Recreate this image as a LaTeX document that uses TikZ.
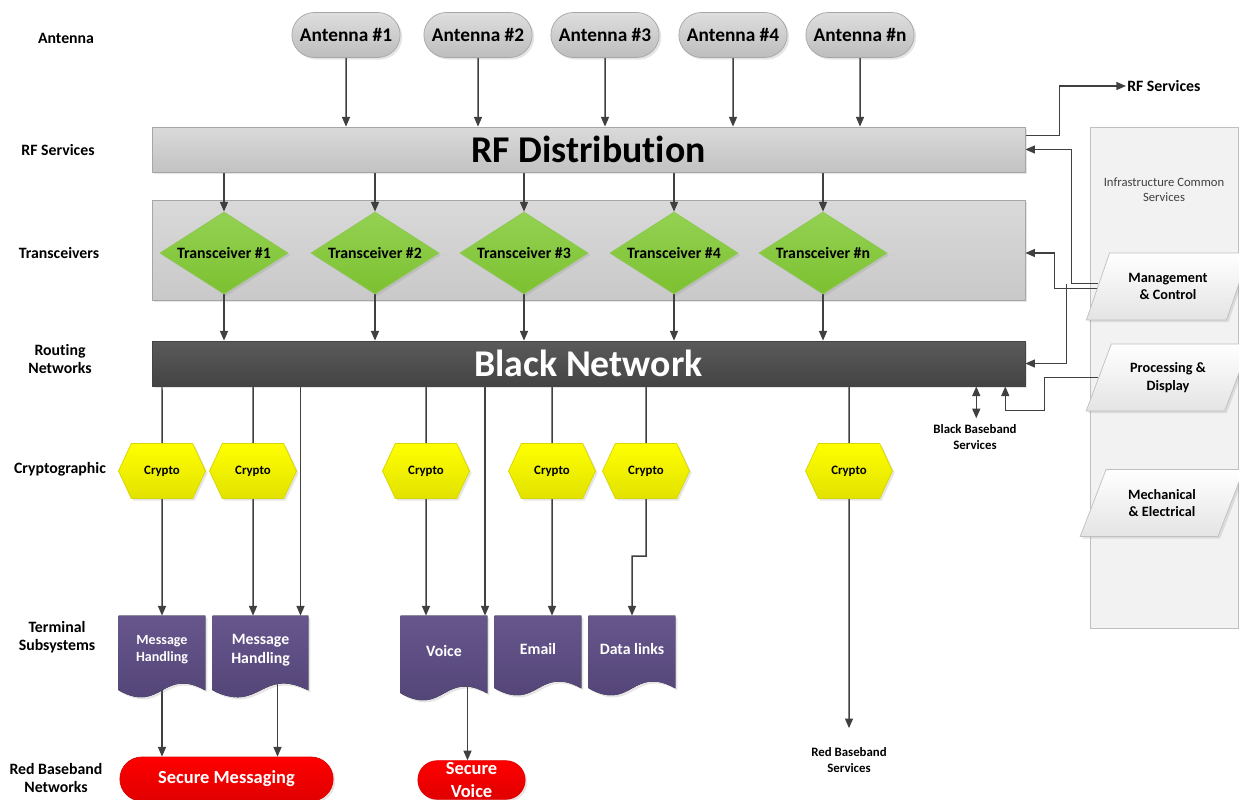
\documentclass[tikz,border=0pt]{standalone}
\usepackage{fontspec}
\setmainfont{Carlito}[Ligatures={NoCommon}]
\usetikzlibrary{arrows.meta, positioning, shapes.geometric, shapes.misc, shapes.symbols, calc, shadows}

\definecolor{linegray}{HTML}{404040}
\definecolor{pilltop}{HTML}{DEDEDE}
\definecolor{pillbot}{HTML}{BDBDBD}
\definecolor{pillborder}{HTML}{A6A6A6}
\definecolor{bartop}{HTML}{DADADA}
\definecolor{barbot}{HTML}{C2C2C2}
\definecolor{boxtop}{HTML}{D9D9D9}
\definecolor{boxbot}{HTML}{C9C9C9}
\definecolor{blacktop}{HTML}{5A5A5A}
\definecolor{blackbot}{HTML}{444444}
\definecolor{trxtop}{HTML}{94D153}
\definecolor{trxbot}{HTML}{7CC130}
\definecolor{trxborder}{HTML}{8CC850}
\definecolor{crytop}{HTML}{FFFF00}
\definecolor{crybot}{HTML}{E2E200}
\definecolor{cryborder}{HTML}{D6D600}
\definecolor{doctop}{HTML}{66568C}
\definecolor{docbot}{HTML}{514275}
\definecolor{redtop}{HTML}{FF0000}
\definecolor{redbot}{HTML}{E00000}
\definecolor{icsfill}{HTML}{F2F2F2}
\definecolor{icsborder}{HTML}{BFBFBF}
\definecolor{parabot}{HTML}{E4E4E4}

\pgfdeclarelayer{back}
\pgfdeclarelayer{lines}
\pgfdeclarelayer{docs}
\pgfsetlayers{back,lines,docs,main}

\begin{document}
\begin{tikzpicture}[
        x=0.02cm, y=-0.02cm,
        soft/.style={drop shadow={shadow xshift=1.2pt, shadow yshift=-1.2pt, opacity=0.2}},
        rowlabel/.style={font=\bfseries\fontsize{9}{10.2}\selectfont, align=center},
        smalltext/.style={font=\bfseries\fontsize{7.3}{9}\selectfont, align=center},
        antenna/.style={rounded rectangle, soft, draw=pillborder, top color=pilltop, bottom color=pillbot, minimum width=2.4cm, minimum height=0.9cm, font=\bfseries\fontsize{11}{13}\selectfont},
        bar/.style={rectangle, soft, minimum width=17.46cm, minimum height=0.9cm, font=\bfseries\fontsize{21.5}{24}\selectfont},
        container/.style={rectangle, soft, draw=pillborder, top color=boxtop, bottom color=boxbot, minimum width=17.46cm, minimum height=2cm},
        trx/.style={diamond, soft, aspect=1.56, inner sep=0pt, draw=trxborder, top color=trxtop, bottom color=trxbot, minimum width=2.56cm, minimum height=1.64cm, font=\bfseries\fontsize{9}{11}\selectfont},
        crypto/.style={signal, signal to=east and west, signal pointer angle=130, soft, inner sep=0pt, draw=cryborder, top color=crytop, bottom color=crybot, minimum width=1.74cm, minimum height=1.1cm, font=\bfseries\fontsize{7.3}{9}\selectfont},
        doc/.style={rectangle, inner sep=0pt, text=white, align=center, minimum width=1.72cm, minimum height=1.36cm, font=\bfseries\fontsize{9}{11}\selectfont},
        redpill/.style={rounded rectangle, soft, inner ysep=1pt, draw=redbot, top color=redtop, bottom color=redbot, text=white, align=center, font=\bfseries\fontsize{10.5}{13}\selectfont},
        para/.style={trapezium, trapezium left angle=65, trapezium right angle=115, trapezium stretches=true, soft, draw=icsborder, top color=white, bottom color=parabot, minimum width=3.28cm, minimum height=1.34cm, align=center, font=\bfseries\fontsize{8.1}{10}\selectfont},
        conn/.style={draw=linegray, line width=0.85pt, -{Triangle[length=5.5pt, width=4.5pt]}},
        link/.style={draw=linegray, line width=0.85pt}
    ]

    \begin{pgfonlayer}{back}
        \fill[white] (0,0) rectangle (1239,800);
    \end{pgfonlayer}
    \useasboundingbox (0,0) rectangle (1239,800);

    % Row labels
    \node[rowlabel] (lAnt) at (66,38) {Antenna};
    \node[rowlabel] (lRF) at (58,150) {RF Services};
    \node[rowlabel] (lTrx) at (59,253) {Transceivers};
    \node[rowlabel] (lRoute) at (60,359) {Routing\\Networks};
    \node[rowlabel] (lCrypto) at (60,469) {Cryptographic};
    \node[rowlabel] (lTerm) at (57,637) {Terminal\\Subsystems};
    \node[rowlabel] (lRed) at (56,778) {Red Baseband\\Networks};

    % Antennas
    \foreach \x/\i in {346/1, 478/2, 605/3, 733/4, 860/n}
        \node[antenna] (ant\i) at (\x,35) {Antenna \#\i};

    % RF distribution and black network
    \node[bar, draw=pillborder, top color=bartop, bottom color=barbot] (rfd) at (588.5,149.5) {RF Distribution};
    \node[bar, draw=blackbot, top color=blacktop, bottom color=blackbot, text=white] (bn) at (588.5,363.5) {Black Network};

    % Transceivers
    \begin{pgfonlayer}{back}
        \node[container] (trxbox) at (588.5,250) {};
        \node[rectangle, draw=icsborder, fill=icsfill, minimum width=2.96cm, minimum height=10.02cm] (ics) at (1164,377.5) {};
    \end{pgfonlayer}
    \foreach \x/\i in {224/1, 375/2, 524/3, 674/4, 823/n}
        \node[trx] (trx\i) at (\x,253) {Transceiver \#\i};

    % Crypto
    \foreach \x/\i in {162/1, 253/2, 426/3, 552/4, 646/5, 849/6}
        \node[crypto] (cr\i) at (\x,471) {Crypto};

    % Terminal subsystems
    \node[doc, font=\bfseries\fontsize{8}{9.6}\selectfont] (mh1) at (162,650) {Message\\Handling};
    \node[doc, minimum width=1.9cm, font=\bfseries\fontsize{9}{10.6}\selectfont] (mh2) at (260.5,650) {Message\\Handling};
    \node[doc, minimum height=1.42cm] (voice) at (444,651.5) {Voice};
    \node[doc, minimum height=1.32cm] (email) at (538,649) {Email};
    \node[doc, minimum height=1.32cm] (datal) at (632,649) {Data links};
    \begin{pgfonlayer}{docs}
        \foreach \d in {mh1, mh2, voice, email, datal}
            \fill[soft, top color=doctop, bottom color=docbot] (\d.north west) -- (\d.north east) -- ($(\d.south east)+(0,6)$)
                .. controls ($(\d.south)+(0,-18)$) and ($(\d.south)+(0,30)$) .. ($(\d.south west)+(0,6)$) -- cycle;
    \end{pgfonlayer}

    % Red baseband networks
    \node[redpill, minimum width=4.5cm, minimum height=0.88cm] (sm) at (226.5,779) {Secure Messaging};
    \node[redpill, minimum width=2.38cm] (sv) at (471.5,780) {Secure\\Voice};

    % Free labels
    \node[smalltext] (bbs) at (975,437) {Black Baseband\\Services};
    \node[smalltext] (rbs) at (849,760) {Red Baseband\\Services};
    \node[rowlabel, anchor=west, inner xsep=0.5pt] (rfsvc) at (1126,86) {RF Services};

    % Infrastructure common services
    \node[font=\fontsize{7.2}{8.6}\selectfont, text=linegray, align=center] (icstitle) at (1164,190) {Infrastructure Common\\Services};
    \node[para] (mc) at (1168,286.5) {Management\\\& Control};
    \node[para] (pd) at (1168,377.5) {Processing \&\\Display};
    \node[para] (me) at (1162,503) {Mechanical\\\& Electrical};

    \coordinate (mh2in) at ($(mh2.north)+(40,0)$);
    \coordinate (voicein) at ($(voice.north)+(41,0)$);
    \coordinate (mh2out) at ($(mh2.south)+(17,0)$);
    \coordinate (voiceout) at ($(voice.south)+(23.5,0)$);

    \begin{pgfonlayer}{lines}
        % top half
        \foreach \i in {1,2,3,4,n} {
            \draw[conn] (ant\i) -- (ant\i |- rfd.north);
            \draw[conn] (rfd.south -| trx\i) -- (trx\i.north);
            \draw[conn] (trx\i.south) -- (trx\i.south |- bn.north);
        }

        % black network down to crypto and terminals
        \foreach \i in {1,...,6}
            \draw[link] (bn.south -| cr\i) -- (cr\i);
        \draw[conn] (cr1) -- (cr1 |- mh1.north);
        \draw[conn] (cr2) -- (cr2 |- mh2.north);
        \draw[conn] (cr3) -- (cr3 |- voice.north);
        \draw[conn] (cr4) -- (cr4 |- email.north);
        \draw[conn] (cr5) -- ++(0,85) -| (datal.north);
        \draw[conn] (cr6) -- ([yshift=7.5pt]rbs.north);
        \draw[conn] (bn.south -| mh2in) -- (mh2in);
        \draw[conn] (bn.south -| voicein) -- (voicein);

        % terminals to red networks
        \draw[conn] (mh1.south) -- (mh1.south |- sm.north);
        \draw[conn] (mh2out) -- (mh2out |- sm.north);
        \draw[conn] (voiceout) -- (voiceout |- sv.north);

        % right side
        \draw[conn] ($(rfd.north east)+(0,9)$) -- ++(34,0) |- (rfsvc.west);
        \draw[conn] ($(mc.west)+(0,-3)$) -| ($(rfd.east)+(46,0)$) -- (rfd.east);
        \draw[conn] ($(mc.west)+(0,2)$) -| ($(trxbox.east)+(29,3)$) -- ($(trxbox.east)+(0,3)$);
        \draw[conn] ($(mc.west)+(-31,-3)$) |- (bn.east);
        \draw[conn] (pd.west) -| ++(-54,33) -| ($(bn.south east)+(-20,0)$);
        \draw[conn, {Triangle[length=5.5pt, width=4.5pt]}-{Triangle[length=5.5pt, width=4.5pt]}] ($(bn.south east)+(-49,0)$) -- ($(bn.south east)+(-49,32)$);
    \end{pgfonlayer}

\end{tikzpicture}
\end{document}
